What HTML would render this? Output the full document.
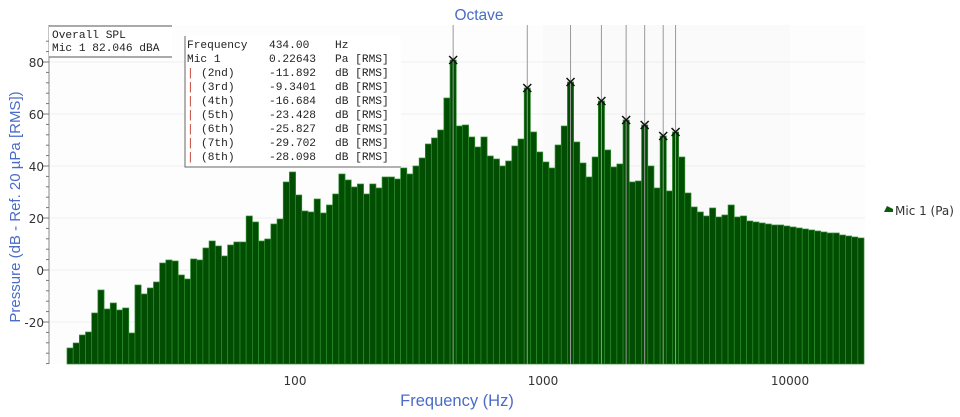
<!DOCTYPE html>
<html><head><meta charset="utf-8"><style>
html,body{margin:0;padding:0;background:#fff;width:960px;height:417px;overflow:hidden}
svg{display:block}
.m{font-family:"Liberation Mono",monospace;font-size:11.2px;fill:#222}
.t{font-family:"DejaVu Sans","Liberation Sans",sans-serif;font-size:12px;fill:#333}
.b{font-family:"Liberation Sans",sans-serif;fill:#4a6cc8}
</style></head><body>
<svg id="s" width="960" height="417" xmlns="http://www.w3.org/2000/svg">
<rect x="49" y="25" width="816" height="339" fill="#fdfdfd"/>
<rect x="543" y="25" width="247" height="339" fill="#fafafa"/>
<g stroke="#efefef" stroke-width="1">
<line x1="50" y1="62" x2="865" y2="62"/><line x1="50" y1="114" x2="865" y2="114"/>
<line x1="50" y1="166" x2="865" y2="166"/><line x1="50" y1="218" x2="865" y2="218"/>
<line x1="50" y1="270" x2="865" y2="270"/><line x1="50" y1="322" x2="865" y2="322"/>
</g>
<g id="bars"></g>
<g id="marks"></g>
<line x1="49" y1="25" x2="49" y2="364" stroke="#888"/>
<g id="ticks" stroke="#777"></g>
<g class="t" text-anchor="end" font-size="13">
<text x="44" y="67">80</text><text x="44" y="119">60</text><text x="44" y="171">40</text>
<text x="44" y="223">20</text><text x="44" y="275">0</text><text x="44" y="327">-20</text>
</g>
<g class="t" text-anchor="middle">
<text x="295" y="385">100</text><text x="543" y="385">1000</text><text x="790" y="385">10000</text>
</g>
<text class="b" x="457" y="406" font-size="16.5" text-anchor="middle">Frequency (Hz)</text>
<text class="b" x="479" y="20" font-size="15.5" text-anchor="middle">Octave</text>
<text class="b" transform="translate(20,207) rotate(-90)" font-size="15" text-anchor="middle">Pressure (dB - Ref. 20 µPa [RMS])</text>
<rect x="49" y="26" width="123" height="31" fill="#fff"/>
<line x1="49" y1="26" x2="172" y2="26" stroke="#555"/>
<line x1="49" y1="57" x2="172" y2="57" stroke="#555"/>
<text class="m" x="52" y="38">Overall SPL</text>
<text class="m" x="52" y="51">Mic 1 82.046 dBA</text>
<rect x="185" y="36" width="216" height="132" fill="#fff"/>
<polyline points="185,36 185,167 401,167" fill="none" stroke="#666" stroke-width="1"/>
<g class="m">
<text x="187" y="48">Frequency</text><text x="269" y="48">434.00</text><text x="335" y="48">Hz</text>
<text x="187" y="62">Mic 1</text><text x="269" y="62">0.22643</text><text x="335" y="62">Pa [RMS]</text>
</g>
<g class="m" id="harm"></g>
<path d="M884,212 l3,-6 l6,3 l0,3 z" fill="#0b5d0b"/>
<text class="t" x="895" y="215" font-size="13">Mic 1 (Pa)</text>
</svg>
<script>
var ys=[348,343,335,332,313,290,309,303,310,308,333,285,294,288,282,263,260,261,275,279,259,260,248,241,246,256,245,242,242,216,222,241,239,224,219,182,172,195,211,212,199,213,205,194,174,180,187,184,194,184,188,177,177,179,168,174,166,158,144,138,130,98,60,126,125,137,147,137,156,159,166,161,146,139,88,132,152,162,168,145,126,82,142,163,177,157,101,150,167,164,120,182,181,125,166,188,136,191,132,157,193,207,212,216,208,217,215,205,217,216,221,222,223,224,225,225,226,227,228,229,230,231,232,233,233,235,236,237,238];
var g=document.getElementById('bars'),w=(864-67)/ys.length,h='';
for(var i=0;i<ys.length;i++){var x=67+i*w;h+='<rect x="'+x.toFixed(2)+'" y="'+ys[i]+'" width="'+w.toFixed(2)+'" height="'+(364-ys[i])+'" fill="#014d01" stroke="#2f8f2f" stroke-width="0.7"/>';}
g.innerHTML=h;
var pk=[62,74,81,86,90,93,96,98],m='';
pk.forEach(function(i){var cx=67+(i+0.5)*w,y=ys[i];m+='<line x1="'+cx+'" y1="25" x2="'+cx+'" y2="364" stroke="#999" stroke-width="1"/>';m+='<path d="M'+(cx-4)+','+(y-4)+'l8,8M'+(cx+4)+','+(y-4)+'l-8,8" stroke="#111" stroke-width="1.5"/>';});
document.getElementById('marks').innerHTML=m;
var t='';for(var v=-36;v<=88;v+=4){var y=270-v*2.6;if(y<25)continue;var L=(v%20==0)?6:3;t+='<line x1="'+(49-L)+'" y1="'+y+'" x2="49" y2="'+y+'"/>';}
document.getElementById('ticks').innerHTML=t;
var hr=[['(2nd)','-11.892'],['(3rd)','-9.3401'],['(4th)','-16.684'],['(5th)','-23.428'],['(6th)','-25.827'],['(7th)','-29.702'],['(8th)','-28.098']],s='';
hr.forEach(function(r,k){var y=76+k*14;s+='<text x="187" y="'+y+'" fill="#c0392b">|</text><text x="201" y="'+y+'">'+r[0]+'</text><text x="269" y="'+y+'">'+r[1]+'</text><text x="335" y="'+y+'">dB [RMS]</text>';});
document.getElementById('harm').innerHTML=s;
</script>
</body></html>
